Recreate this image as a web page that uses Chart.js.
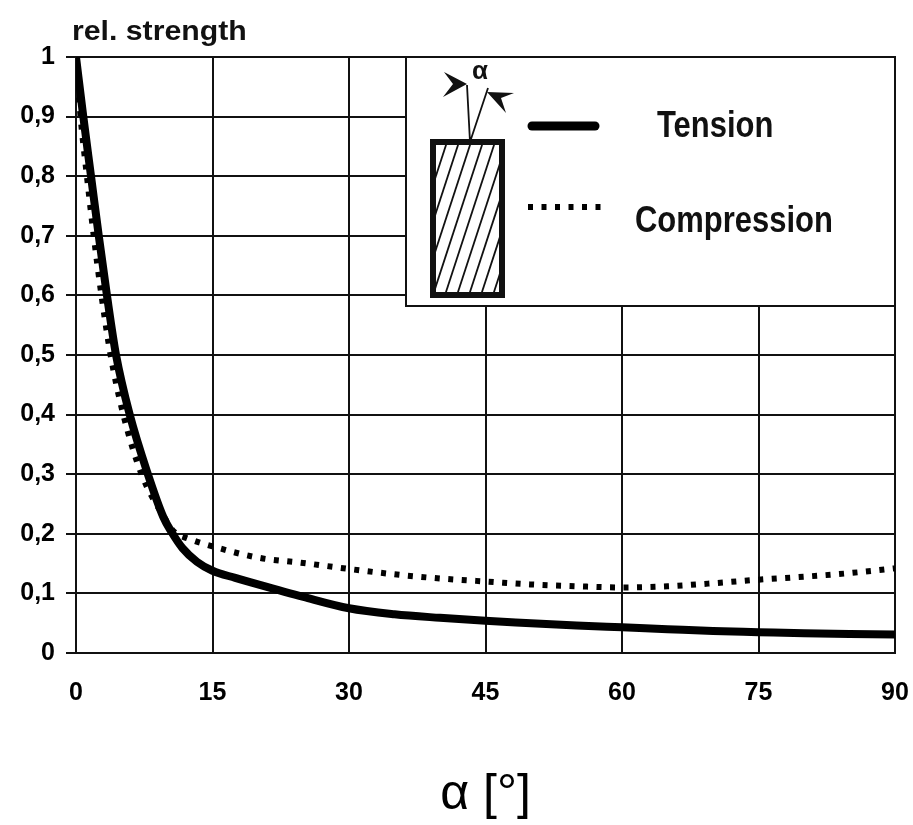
<!DOCTYPE html>
<html>
<head>
<meta charset="utf-8">
<script src="https://cdn.jsdelivr.net/npm/chart.js@4.4.0/dist/chart.umd.min.js"></script>
<style>
  html, body { margin: 0; padding: 0; background: #fff; }
  #wrap { width: 913px; height: 825px; }
</style>
</head>
<body>
<div id="wrap"><canvas id="c" width="913" height="825"></canvas></div>
<script>
// ---- data ----
const tensionX = [0, 0.8, 1.65, 2.5, 3.4, 4.4, 5.9, 7.9, 9.6, 10.5, 11.7, 13.3, 15, 17.5, 20, 25, 30, 35, 40, 45, 50, 55, 60, 65, 70, 75, 80, 85, 90];
const tensionY = [1, 0.9, 0.8, 0.7, 0.6, 0.5, 0.4, 0.3, 0.228, 0.203, 0.176, 0.153, 0.138, 0.126, 0.115, 0.094, 0.075, 0.065, 0.059, 0.054, 0.050, 0.046, 0.043, 0.040, 0.037, 0.035, 0.033, 0.032, 0.031];

const compressionX = [0, 0.5, 1.2, 1.95, 2.8, 3.8, 5.2, 7.2, 9.6, 10.8, 12.3, 15, 20, 25, 30, 35, 40, 45, 50, 55, 60, 65, 70, 75, 80, 85, 90];
const compressionY = [1, 0.9, 0.8, 0.7, 0.6, 0.5, 0.4, 0.3, 0.23, 0.203, 0.192, 0.179, 0.16, 0.151, 0.141, 0.132, 0.125, 0.12, 0.115, 0.112, 0.11, 0.112, 0.117, 0.123, 0.128, 0.134, 0.142];

const xTickLabels = ['0', '15', '30', '45', '60', '75', '90'];
const yTickLabels = ['0', '0,1', '0,2', '0,3', '0,4', '0,5', '0,6', '0,7', '0,8', '0,9', '1'];

const seriesNames = ['Tension', 'Compression'];
const yAxisLabel = 'rel. strength';
const xAxisLabel = 'α [°]';

// ---- build ----
const toPts = (xs, ys) => xs.map((x, i) => ({ x: x, y: ys[i] }));
const INK = '#111';
const FONT = "'Liberation Sans', Arial, sans-serif";

const decorPlugin = {
  id: 'decor',
  afterDraw(chart) {
    const ctx = chart.ctx;
    const a = chart.chartArea;
    const L = a.left, T = a.top, R = a.right;
    ctx.save();

    // y axis caption above plot
    ctx.fillStyle = INK;
    ctx.font = 'bold 28px ' + FONT;
    ctx.textBaseline = 'alphabetic';
    ctx.textAlign = 'left';
    ctx.save();
    ctx.translate(L - 4, T - 17);
    ctx.scale(1.08, 1);
    ctx.fillText(yAxisLabel, 0, 0);
    ctx.restore();

    // legend box
    const bx = L + 330, by = T, bw = R - bx, bh = 249;
    ctx.fillStyle = '#fff';
    ctx.fillRect(bx, by, bw, bh);
    ctx.strokeStyle = INK;
    ctx.lineWidth = 2;
    ctx.strokeRect(bx, by, bw, bh);

    // specimen rectangle with hatching
    const sx = bx + 27, sy = by + 85, sw = 69, sh = 153;
    ctx.save();
    ctx.beginPath();
    ctx.rect(sx, sy, sw, sh);
    ctx.clip();
    ctx.lineWidth = 1.8;
    ctx.strokeStyle = INK;
    for (let k = -60; k < sw + 10; k += 12) {
      ctx.beginPath();
      ctx.moveTo(sx + k, sy + sh);
      ctx.lineTo(sx + k + 50, sy);
      ctx.stroke();
    }
    ctx.restore();
    ctx.lineWidth = 6;
    ctx.strokeRect(sx, sy, sw, sh);

    // fibre / load direction lines
    const px = sx + 37, py = sy;
    ctx.lineWidth = 1.8;
    ctx.beginPath();
    ctx.moveTo(px, py); ctx.lineTo(px - 3, py - 57);
    ctx.moveTo(px, py); ctx.lineTo(px + 18, py - 54);
    ctx.stroke();
    // arrowheads
    ctx.fillStyle = INK;
    ctx.beginPath();
    ctx.moveTo(px - 3, py - 58);
    ctx.lineTo(px - 26, py - 70);
    ctx.lineTo(px - 17, py - 58);
    ctx.lineTo(px - 27, py - 45);
    ctx.closePath();
    ctx.fill();
    ctx.beginPath();
    ctx.moveTo(px + 17, py - 50);
    ctx.lineTo(px + 44, py - 49);
    ctx.lineTo(px + 31, py - 44);
    ctx.lineTo(px + 36, py - 29);
    ctx.closePath();
    ctx.fill();
    ctx.font = 'bold 26px ' + FONT;
    ctx.textAlign = 'center';
    ctx.textBaseline = 'middle';
    ctx.fillText('α', px + 10, py - 70);

    // series samples
    ctx.strokeStyle = '#000';
    ctx.lineCap = 'round';
    ctx.lineWidth = 9;
    ctx.beginPath();
    ctx.moveTo(bx + 126, by + 69); ctx.lineTo(bx + 189, by + 69);
    ctx.stroke();
    ctx.lineCap = 'butt';
    ctx.lineWidth = 6;
    ctx.setLineDash([5, 8.5]);
    ctx.beginPath();
    ctx.moveTo(bx + 122, by + 150); ctx.lineTo(bx + 195, by + 150);
    ctx.stroke();
    ctx.setLineDash([]);

    ctx.fillStyle = INK;
    ctx.font = 'bold 36px ' + FONT;
    ctx.textAlign = 'left';
    ctx.textBaseline = 'alphabetic';
    ctx.save();
    ctx.translate(bx + 251, by + 80);
    ctx.scale(0.86, 1);
    ctx.fillText(seriesNames[0], 0, 0);
    ctx.restore();
    ctx.save();
    ctx.translate(bx + 229, by + 175);
    ctx.scale(0.86, 1);
    ctx.fillText(seriesNames[1], 0, 0);
    ctx.restore();

    ctx.restore();
  }
};

new Chart(document.getElementById('c'), {
  type: 'line',
  data: {
    datasets: [
      {
        label: seriesNames[0],
        data: toPts(tensionX, tensionY),
        borderColor: '#000',
        borderWidth: 8,
        pointRadius: 0,
        cubicInterpolationMode: 'monotone',
        borderCapStyle: 'round',
        borderJoinStyle: 'round',
        fill: false
      },
      {
        label: seriesNames[1],
        data: toPts(compressionX, compressionY),
        borderColor: '#000',
        borderWidth: 6,
        borderDash: [5, 8.5],
        borderCapStyle: 'butt',
        pointRadius: 0,
        cubicInterpolationMode: 'monotone',
        fill: false
      }
    ]
  },
  options: {
    responsive: false,
    animation: false,
    devicePixelRatio: 1,
    layout: { padding: { left: 0, right: 0, top: 57, bottom: 0 } },
    plugins: {
      legend: { display: false },
      tooltip: { enabled: false },
      title: { display: false }
    },
    scales: {
      x: {
        type: 'linear',
        min: 0, max: 90,
        afterFit(s) { s.height = 172; s.paddingRight = 18; s.paddingLeft = 0; },
        grid: { color: INK, lineWidth: 2, drawTicks: false },
        border: { color: INK, width: 2 },
        ticks: {
          stepSize: 15,
          padding: 25,
          color: '#000',
          font: { family: FONT, size: 25, weight: 'bold' },
          callback: (v, i) => xTickLabels[i]
        },
        title: {
          display: true,
          text: xAxisLabel,
          color: '#000',
          font: { family: FONT, size: 50 },
          padding: { top: 0, bottom: 0 }
        }
      },
      y: {
        min: 0, max: 1,
        afterFit(s) { s.width = 76; },
        grid: { color: INK, lineWidth: 2, drawTicks: true, tickLength: 10 },
        border: { color: INK, width: 2 },
        ticks: {
          stepSize: 0.1,
          padding: 11,
          color: '#000',
          font: { family: FONT, size: 25, weight: 'bold' },
          callback: (v, i) => yTickLabels[i]
        }
      }
    }
  },
  plugins: [decorPlugin]
});
</script>
</body>
</html>
